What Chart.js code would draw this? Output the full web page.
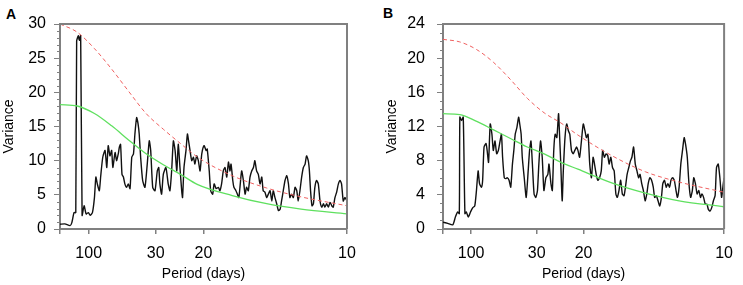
<!DOCTYPE html>
<html>
<head>
<meta charset="utf-8">
<script src="https://cdn.jsdelivr.net/npm/chart.js@4.4.0/dist/chart.umd.min.js"></script>
<style>
    body { margin: 0; background: #fff; width: 743px; height: 285px; overflow: hidden; position: relative; font-family: Arial, "Liberation Sans", sans-serif; }
    canvas { position: absolute; top: 0; }
    .tag { position: absolute; font-weight: bold; font-size: 14px; color: #000; }
</style>
</head>
<body>
<div class="tag" style="left:6px; top:6px;">A</div>
<canvas id="chartA" width="371" height="285" style="left:0px"></canvas>
<div class="tag" style="left:383px; top:5px;">B</div>
<canvas id="chartB" width="371" height="285" style="left:372px"></canvas>
<script>
// Frequencies in cycles/day; the x axis is labelled by period (days)
const periodTicks = [100, 30, 20, 10];

const freqA = [0,0.0017,0.0035,0.0041,0.0049,0.0055,0.0058,0.0064,0.0067,0.0072,
    0.0077,0.0084,0.0091,0.0099,0.0105,0.0113,0.0120,0.0125,0.0130,0.0137,
    0.0142,0.0149,0.0157,0.0163,0.0168,0.0174,0.0180,0.0184,0.0192,0.0197,
    0.0203,0.0207,0.0211,0.0216,0.0221,0.0226,0.0232,0.0238,0.0244,0.0250,
    0.0256,0.0261,0.0267,0.0272,0.0276,0.0281,0.0288,0.0296,0.0304,0.0311,
    0.0316,0.0323,0.0331,0.0339,0.0344,0.0348,0.0354,0.0360,0.0369,0.0377,
    0.0383,0.0389,0.0395,0.0401,0.0407,0.0412,0.0418,0.0424,0.0427,0.0432,
    0.0439,0.0444,0.0448,0.0453,0.0459,0.0465,0.0470,0.0476,0.0482,0.0488,
    0.0494,0.0502,0.0509,0.0513,0.0520,0.0525,0.0532,0.0537,0.0544,0.0552,
    0.0557,0.0563,0.0569,0.0575,0.0581,0.0587,0.0592,0.0596,0.0602,0.0606,
    0.0613,0.0618,0.0623,0.0627,0.0633,0.0639,0.0645,0.0650,0.0656,0.0662,
    0.0668,0.0674,0.0679,0.0685,0.0691,0.0697,0.0703,0.0708,0.0714,0.0720,
    0.0726,0.0732,0.0738,0.0743,0.0749,0.0755,0.0761,0.0767,0.0772,0.0778,
    0.0784,0.0790,0.0796,0.0801,0.0807,0.0813,0.0819,0.0825,0.0830,0.0836,
    0.0842,0.0848,0.0854,0.0859,0.0865,0.0869,0.0873,0.0878,0.0883,0.0888,
    0.0894,0.0900,0.0906,0.0912,0.0918,0.0923,0.0929,0.0935,0.0941,0.0947,
    0.0952,0.0958,0.0964,0.0970,0.0976,0.0981,0.0987,0.0993,0.1000];
const varA = [0.7,0.75,0.5,0.9,2.4,2.4,27.5,28.3,27.6,28.3,
    2.0,3.4,2.2,2.4,2.0,2.4,4.6,7.6,6.6,5.6,
    7.8,10.5,11.5,9.0,12.2,10.7,11.5,9.0,11.2,10.0,
    11.0,12.0,12.4,8.0,7.6,6.6,6.1,6.6,5.9,10.5,
    11.0,13.9,16.3,15.4,13.9,10.5,7.1,6.1,9.5,12.9,
    11.5,6.1,5.6,8.5,9.0,6.6,5.1,8.0,9.0,6.6,
    5.6,8.5,12.9,11.5,8.5,12.4,9.0,5.6,4.6,9.0,
    11.5,13.9,12.9,11.5,10.0,10.5,9.5,10.7,10.0,8.5,
    11.0,12.2,11.5,11.7,8.5,5.6,5.1,6.6,5.9,6.1,
    5.6,6.6,8.5,9.0,7.6,9.8,8.5,9.5,7.1,6.1,
    5.6,5.1,4.6,6.1,8.5,7.1,5.1,6.1,5.6,7.6,
    8.5,9.0,10.0,8.5,8.0,6.6,7.6,5.6,5.4,4.6,
    5.1,5.6,4.1,5.6,4.6,3.7,2.7,2.9,4.1,5.6,
    7.1,7.8,6.6,4.6,5.1,4.6,6.1,5.6,4.1,5.6,
    7.6,9.0,9.5,10.7,10.0,8.5,5.6,3.4,3.7,6.1,
    7.1,6.6,4.1,3.2,3.7,3.2,3.7,3.2,3.9,3.4,
    3.2,4.6,5.4,6.6,7.1,6.6,4.1,4.6,4.1];

const freqB = [0,0.0017,0.0035,0.0044,0.0052,0.0058,0.0060,0.0066,0.0072,0.0078,
    0.0083,0.0090,0.0098,0.0106,0.0113,0.0119,0.0125,0.0130,0.0137,0.0141,
    0.0146,0.0153,0.0157,0.0162,0.0168,0.0174,0.0179,0.0185,0.0191,0.0197,
    0.0203,0.0208,0.0212,0.0218,0.0223,0.0229,0.0235,0.0241,0.0247,0.0252,
    0.0257,0.0263,0.0269,0.0273,0.0278,0.0282,0.0289,0.0296,0.0303,0.0308,
    0.0313,0.0318,0.0324,0.0330,0.0336,0.0341,0.0347,0.0353,0.0359,0.0366,
    0.0373,0.0377,0.0384,0.0389,0.0394,0.0399,0.0405,0.0411,0.0414,0.0419,
    0.0424,0.0428,0.0434,0.0440,0.0446,0.0451,0.0457,0.0463,0.0469,0.0475,
    0.0480,0.0486,
    0.0493,0.0499,0.0505,0.0510,0.0516,0.0522,0.0528,0.0534,0.0539,0.0545,
    0.0551,0.0557,0.0563,0.0568,0.0574,0.0580,0.0586,0.0591,0.0597,0.0603,
    0.0609,0.0615,0.0620,0.0626,0.0632,0.0638,0.0644,0.0649,0.0655,0.0661,
    0.0667,0.0672,0.0678,0.0684,0.0690,0.0696,0.0701,0.0707,0.0713,0.0719,
    0.0725,0.0730,0.0736,0.0742,0.0748,0.0753,0.0759,0.0765,0.0771,0.0777,
    0.0782,0.0788,0.0794,0.0800,0.0806,0.0811,0.0817,0.0823,0.0829,0.0834,
    0.0840,0.0846,0.0852,0.0858,0.0863,0.0869,0.0875,0.0881,0.0887,0.0892,
    0.0898,0.0904,0.0910,0.0916,0.0921,0.0927,0.0933,0.0939,0.0944,0.0950,
    0.0956,0.0962,0.0968,0.0973,0.0979,0.0985,0.0991,0.0997,0.1000];
const varB = [0.8,0.66,0.5,1.4,2.0,1.8,13.1,12.7,13.1,1.8,
    2.0,1.4,2.0,2.5,2.7,4.5,6.8,5.3,4.9,5.7,
    9.6,10.0,9.2,7.8,12.3,11.1,9.2,10.3,8.8,9.2,
    10.3,11.1,8.4,6.0,5.9,6.0,5.7,4.9,7.6,9.2,
    11.1,11.9,13.1,12.3,11.1,8.4,6.0,3.7,6.8,9.2,
    10.3,7.6,4.1,3.7,4.5,7.6,10.3,8.4,4.5,6.0,
    6.4,7.6,5.3,4.5,9.2,11.1,10.7,13.5,11.5,7.6,
    3.3,6.8,10.7,12.3,11.5,11.1,9.2,8.8,9.2,9.6,
    9.2,8.4,
    10.5,12.3,11.5,10.7,11.1,7.6,6.0,8.4,7.6,6.4,
    5.7,6.0,6.8,9.2,8.4,8.8,8.6,7.6,8.4,7.2,
    6.8,4.1,3.7,4.5,5.7,4.1,3.9,4.9,6.4,7.2,
    8.0,8.4,9.6,7.6,6.8,6.0,6.4,5.3,4.5,3.3,
    4.1,5.3,6.0,5.7,4.9,3.7,3.9,3.3,2.7,3.7,
    5.3,5.7,4.9,5.3,4.9,5.7,6.0,5.7,4.5,3.7,
    4.9,7.6,9.2,10.7,9.9,8.4,5.3,3.7,4.5,6.0,
    5.3,4.1,4.5,3.7,4.1,3.7,2.9,2.9,2.3,2.1,
    2.5,3.3,3.9,7.2,7.6,6.0,3.7,5.3,6.0];

// red-noise (dashed red) and significance (green) curves
const curveFreq = [0,0.006,0.012,0.018,0.024,0.03,0.036,0.042,0.048,0.06,0.072,0.084,0.1];
const redA   = [30.0,28.8,26.4,23.4,20.1,16.9,14.6,12.5,10.5,7.8,6.0,4.7,3.4];
const greenA = [18.2,18.0,16.9,15.1,13.0,11.0,9.4,8.0,6.5,4.9,3.7,2.9,2.2];
const redB   = [22.2,21.9,21.0,19.5,17.5,15.3,13.6,12.4,11.0,8.6,6.7,5.5,4.3];
const greenB = [13.5,13.4,12.6,11.6,10.6,9.6,8.8,7.8,7.0,5.4,4.2,3.3,2.6];

const axisColor = '#808080';
const fontFamily = 'Arial, "Liberation Sans", sans-serif';

const toPoints = (xs, ys) => xs.map((x, i) => ({ x: x, y: ys[i] }));

// draws the minor y ticks and the top/right frame of the plot box
const frameAndMinor = {
    id: 'frameAndMinor',
    afterDraw: (chart) => {
        const { ctx, chartArea: a, scales: { y } } = chart;
        const major = y.options.ticks.stepSize;
        ctx.save();
        ctx.strokeStyle = axisColor;
        ctx.lineWidth = 1;
        for (let v = y.min; v <= y.max; v += 1) {
            if (v % major === 0) continue;
            const py = Math.round(y.getPixelForValue(v)) + 0.5;
            ctx.beginPath();
            ctx.moveTo(a.left - 3, py);
            ctx.lineTo(a.left, py);
            ctx.stroke();
        }
        ctx.lineWidth = 2;
        ctx.beginPath();
        ctx.moveTo(a.left, a.top);
        ctx.lineTo(a.right, a.top);
        ctx.lineTo(a.right, a.bottom);
        ctx.stroke();
        ctx.restore();
    }
};

function makePanel(id, freqs, vals, red, green, yMax, yStep, p) {
    const config = {
        type: 'line',
        data: {
            datasets: [
                {
                    data: toPoints(curveFreq, red),
                    borderColor: '#ef6060',
                    borderWidth: 1,
                    borderDash: [4, 3],
                    pointRadius: 0,
                    cubicInterpolationMode: 'monotone'
                },
                {
                    data: toPoints(curveFreq, green),
                    borderColor: '#5fe05f',
                    borderWidth: 1.3,
                    pointRadius: 0,
                    cubicInterpolationMode: 'monotone'
                },
                {
                    data: toPoints(freqs, vals),
                    borderColor: '#111111',
                    borderWidth: 1.4,
                    pointRadius: 0,
                    tension: 0.2
                }
            ]
        },
        options: {
            responsive: false,
            animation: false,
            layout: { padding: { top: 24, right: p.right, left: 0, bottom: 0 } },
            plugins: {
                legend: { display: false },
                tooltip: { enabled: false }
            },
            scales: {
                x: {
                    type: 'linear',
                    min: 0,
                    max: 0.1,
                    afterBuildTicks: (axis) => {
                        axis.ticks = [{ value: 0 }].concat(periodTicks.map(t => ({ value: 1 / t })));
                    },
                    afterFit: (axis) => { axis.height = 56; },
                    ticks: {
                        autoSkip: false,
                        maxRotation: 0,
                        padding: 10,
                        color: '#000',
                        font: { family: fontFamily, size: 16 },
                        callback: (value) => value === 0 ? '' : String(Math.round(1 / value))
                    },
                    grid: { drawOnChartArea: false, drawTicks: true, tickLength: 5, color: axisColor, lineWidth: 1.5 },
                    border: { display: true, color: axisColor, width: 2 },
                    title: {
                        display: true,
                        text: 'Period (days)',
                        color: '#000',
                        font: { family: fontFamily, size: 14 },
                        padding: { top: 0, bottom: 2 }
                    }
                },
                y: {
                    min: 0,
                    max: yMax,
                    afterFit: (axis) => { axis.width = p.yWidth; },
                    ticks: {
                        stepSize: yStep,
                        padding: p.tickPad,
                        color: '#000',
                        font: { family: fontFamily, size: 16 }
                    },
                    grid: { drawOnChartArea: false, drawTicks: true, tickLength: 6, color: axisColor, lineWidth: 1 },
                    border: { display: true, color: axisColor, width: 2 },
                    title: {
                        display: true,
                        text: 'Variance',
                        color: '#000',
                        font: { family: fontFamily, size: 14 },
                        padding: { top: p.titlePad, bottom: 0 }
                    }
                }
            }
        },
        plugins: [frameAndMinor]
    };
    return new Chart(document.getElementById(id), config);
}

makePanel('chartA', freqA, varA, redA, greenA, 30, 5, { right: 24, yWidth: 60, tickPad: 8, titlePad: 1 });
makePanel('chartB', freqB, varB, redB, greenB, 24, 4, { right: 12, yWidth: 71, tickPad: 12, titlePad: 12 });
</script>
</body>
</html>
